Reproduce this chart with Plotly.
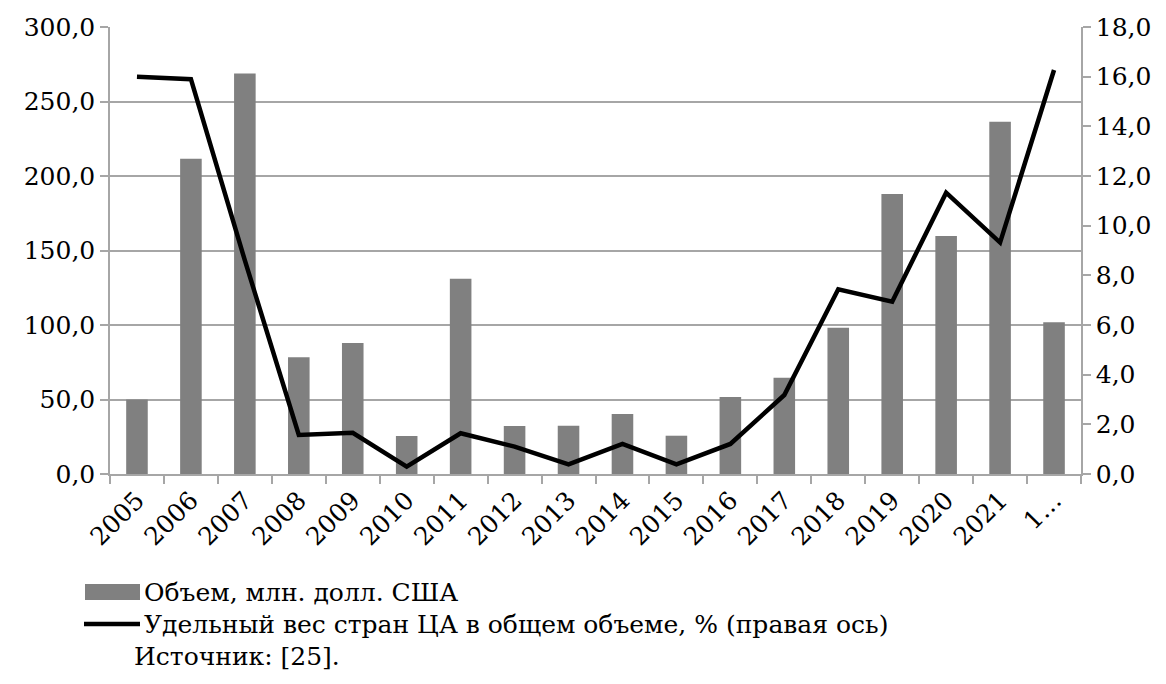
import plotly.graph_objects as go

categories = ["2005", "2006", "2007", "2008", "2009", "2010", "2011", "2012", "2013",
              "2014", "2015", "2016", "2017", "2018", "2019", "2020", "2021", "1…"]
volume = [50.0, 211.5, 268.8, 78.3, 88.0, 25.5, 131.0, 32.2, 32.4,
          40.3, 25.7, 51.7, 64.6, 98.2, 188.0, 159.7, 236.4, 101.8]
share = [16.0, 15.9, 8.6, 1.57, 1.66, 0.3, 1.64, 1.1, 0.39,
         1.21, 0.39, 1.21, 3.18, 7.44, 6.94, 11.33, 9.32, 16.27]
left_ticks = [0, 50, 100, 150, 200, 250, 300]
right_ticks = [0, 2, 4, 6, 8, 10, 12, 14, 16, 18]

bar_name = "Объем, млн. долл. США"
line_name = "Удельный вес стран ЦА в общем объеме, % (правая ось)"
source_text = "Источник: [25]."

FONT = "DejaVu Serif"
FS = 25
GRID = "#a6a6a6"
OFF = 8  # page body margin

fig = go.Figure()
fig.add_trace(go.Bar(x=categories, y=volume, name=bar_name, marker_color="#808080",
                     marker_line_width=0, yaxis="y"))
fig.add_trace(go.Scatter(x=categories, y=share, name=line_name, mode="lines",
                         line=dict(color="#000000", width=4.5), yaxis="y2"))

fig.update_layout(
    width=1166 - OFF, height=684 - OFF,
    margin=dict(l=110 - OFF, r=85, t=27 - OFF, b=210),
    paper_bgcolor="white", plot_bgcolor="white",
    showlegend=False,
    bargap=0.6,
    font=dict(family=FONT, size=FS, color="#000000"),
    xaxis=dict(type="category", tickangle=-45, ticks="outside", tickson="boundaries",
               ticklen=8, tickcolor=GRID, tickwidth=1.5, showline=True, linecolor=GRID,
               linewidth=1.5, showgrid=False, tickfont=dict(family=FONT, size=FS),
               range=[-0.5, len(categories) - 0.5], automargin=False),
    yaxis=dict(range=[0, 300], tickvals=left_ticks,
               ticktext=[f"{v:.1f}".replace(".", ",") for v in left_ticks],
               showgrid=True, gridcolor=GRID, gridwidth=1.5, showline=True, linecolor=GRID,
               linewidth=1.5, ticks="outside", ticklen=8, tickcolor=GRID, tickwidth=1.5,
               zeroline=False, tickfont=dict(family=FONT, size=FS), automargin=False),
    yaxis2=dict(range=[0, 18], tickvals=right_ticks,
                ticktext=[f"{v:.1f}".replace(".", ",") for v in right_ticks],
                overlaying="y", side="right", showgrid=False, showline=True, linecolor=GRID,
                linewidth=1.5, ticks="outside", ticklen=8, tickcolor=GRID, tickwidth=1.5,
                zeroline=False, tickfont=dict(family=FONT, size=FS), automargin=False),
)

fig.add_shape(type="rect", xref="paper", yref="paper",
              x0=(85 - 110) / 971, x1=(140 - 110) / 971,
              y0=(474 - 584) / 447, y1=(474 - 600) / 447,
              fillcolor="#808080", line_width=0)
fig.add_shape(type="line", xref="paper", yref="paper",
              x0=(84 - 110) / 971, x1=(140 - 110) / 971,
              y0=(474 - 624) / 447, y1=(474 - 624) / 447,
              line=dict(color="#000000", width=4.5))
fig.add_annotation(text=bar_name, xref="paper", yref="paper", x=(142 - 110) / 971,
                   y=(474 - 592) / 447, xanchor="left", yanchor="middle", showarrow=False,
                   font=dict(family=FONT, size=FS))
fig.add_annotation(text=line_name, xref="paper", yref="paper", x=(142 - 110) / 971,
                   y=(474 - 624) / 447, xanchor="left", yanchor="middle", showarrow=False,
                   font=dict(family=FONT, size=FS))
fig.add_annotation(text=source_text, xref="paper", yref="paper", x=(132 - 110) / 971,
                   y=(474 - 656) / 447, xanchor="left", yanchor="middle", showarrow=False,
                   font=dict(family=FONT, size=FS))

fig.write_html("out.html")
